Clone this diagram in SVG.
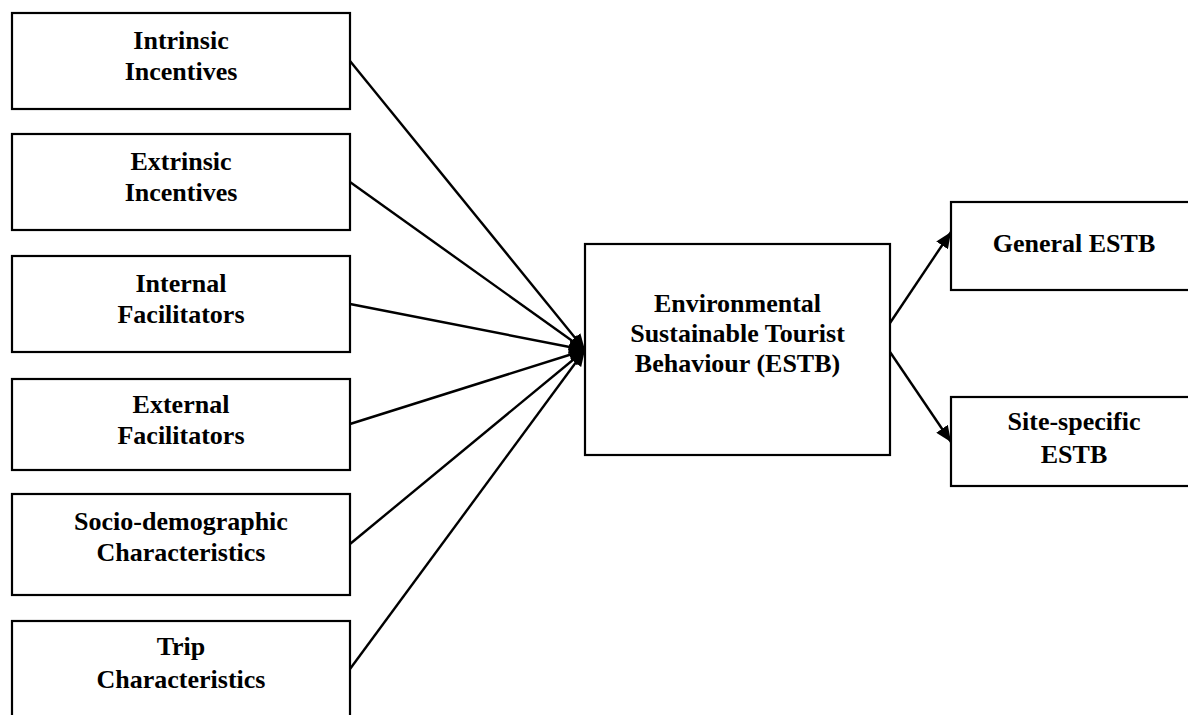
<svg xmlns="http://www.w3.org/2000/svg" width="1188" height="715" viewBox="0 0 1188 715">
  <defs>
    <style>
      .box { fill: #ffffff; stroke: #000000; stroke-width: 2.2; }
      .lbl { font-family: "Liberation Serif", "Times New Roman", serif; font-weight: bold; font-size: 26px; fill: #000000; text-anchor: middle; }
      .edge { stroke: #000000; stroke-width: 2.4; fill: none; marker-end: url(#head); }
    </style>
    <marker id="head" markerUnits="userSpaceOnUse" markerWidth="18" markerHeight="14" refX="16" refY="7" orient="auto">
      <path d="M0,0 L16,7 L0,14 Z" fill="#000000"/>
    </marker>
  </defs>
  <rect width="1188" height="715" fill="#ffffff"/>

  <!-- connectors -->
  <g id="connectors">
    <line class="edge" x1="350" y1="61" x2="585" y2="350"/>
    <line class="edge" x1="350" y1="182" x2="585" y2="350"/>
    <line class="edge" x1="350" y1="304" x2="585" y2="350"/>
    <line class="edge" x1="350" y1="424" x2="585" y2="350"/>
    <line class="edge" x1="350" y1="544" x2="585" y2="350"/>
    <line class="edge" x1="350" y1="669" x2="585" y2="350"/>
    <line class="edge" x1="890" y1="323" x2="951" y2="232"/>
    <line class="edge" x1="890" y1="352" x2="951" y2="442"/>
  </g>

  <!-- determinants -->
  <g id="intrinsic-incentives">
    <rect class="box" x="12" y="13" width="338" height="96"/>
    <text class="lbl" x="181" y="49">Intrinsic</text>
    <text class="lbl" x="181" y="80">Incentives</text>
  </g>
  <g id="extrinsic-incentives">
    <rect class="box" x="12" y="134" width="338" height="96"/>
    <text class="lbl" x="181" y="170">Extrinsic</text>
    <text class="lbl" x="181" y="201">Incentives</text>
  </g>
  <g id="internal-facilitators">
    <rect class="box" x="12" y="256" width="338" height="96"/>
    <text class="lbl" x="181" y="292">Internal</text>
    <text class="lbl" x="181" y="323">Facilitators</text>
  </g>
  <g id="external-facilitators">
    <rect class="box" x="12" y="379" width="338" height="91"/>
    <text class="lbl" x="181" y="413">External</text>
    <text class="lbl" x="181" y="444">Facilitators</text>
  </g>
  <g id="socio-demographic">
    <rect class="box" x="12" y="494" width="338" height="101"/>
    <text class="lbl" x="181" y="530">Socio-demographic</text>
    <text class="lbl" x="181" y="561">Characteristics</text>
  </g>
  <g id="trip-characteristics">
    <rect class="box" x="12" y="621" width="338" height="100"/>
    <text class="lbl" x="181" y="655">Trip</text>
    <text class="lbl" x="181" y="688">Characteristics</text>
  </g>

  <!-- central construct -->
  <g id="estb">
    <rect class="box" x="585" y="244" width="305" height="211"/>
    <text class="lbl" x="737.5" y="312">Environmental</text>
    <text class="lbl" x="737.5" y="342">Sustainable Tourist</text>
    <text class="lbl" x="737.5" y="372">Behaviour (ESTB)</text>
  </g>

  <!-- outcomes -->
  <g id="general-estb">
    <rect class="box" x="951" y="202" width="250" height="88"/>
    <text class="lbl" x="1074" y="252">General ESTB</text>
  </g>
  <g id="site-specific-estb">
    <rect class="box" x="951" y="397" width="250" height="89"/>
    <text class="lbl" x="1074" y="430">Site-specific</text>
    <text class="lbl" x="1074" y="463">ESTB</text>
  </g>
</svg>
